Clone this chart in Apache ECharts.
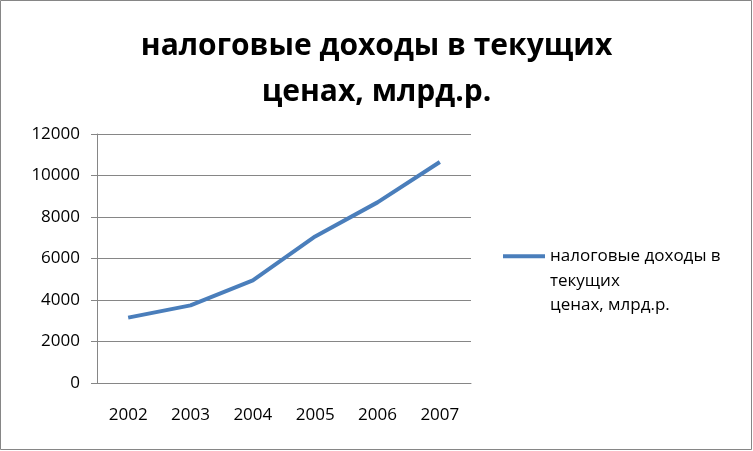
<!DOCTYPE html>
<html><head><meta charset="utf-8">
<script src="https://cdn.jsdelivr.net/npm/echarts@6/dist/echarts.min.js"></script>
<style>html,body{margin:0;padding:0;background:#fff}#c{width:753px;height:451px}</style>
</head><body><div id="c"></div>
<script>
const titleText = 'налоговые доходы в текущих\nценах, млрд.р.';
const seriesName = 'налоговые доходы в текущих ценах, млрд.р.';
const legendLines = ['налоговые доходы в', 'текущих', 'ценах, млрд.р.'];
const categories = ['2002', '2003', '2004', '2005', '2006', '2007'];
const values = [3150, 3740, 4945, 7065, 8705, 10650];
const yMin = 0, yMax = 12000, yStep = 2000;

const chart = echarts.init(document.getElementById('c'));
const font = 'Open Sans';
chart.setOption({
  animation: false,
  backgroundColor: '#fff',
  title: {
    text: titleText, left: 'center', top: 18,
    textStyle: {fontFamily: font, fontWeight: 'bold', fontSize: 30, lineHeight: 46, color: '#000'}
  },
  grid: {left: 97, right: 282, top: 134, bottom: 68},
  xAxis: {
    type: 'category', data: categories, boundaryGap: true,
    axisLine: {lineStyle: {color: '#868686'}},
    axisTick: {length: 6, lineStyle: {color: '#868686'}},
    axisLabel: {fontFamily: font, fontSize: 17, color: '#000', margin: 24}
  },
  yAxis: {
    type: 'value', min: yMin, max: yMax, interval: yStep,
    axisLine: {show: true, lineStyle: {color: '#868686'}},
    axisTick: {show: true, length: 6, lineStyle: {color: '#868686'}},
    splitLine: {lineStyle: {color: '#868686'}},
    axisLabel: {fontFamily: font, fontSize: 17, color: '#000', margin: 17, formatter: v => String(v)}
  },
  legend: {
    left: 498, top: 190, orient: 'vertical',
    icon: 'rect', itemWidth: 42, itemHeight: 4,
    formatter: () => '\n\n' + legendLines.join('\n'),
    textStyle: {fontFamily: font, fontSize: 17, color: '#000', lineHeight: 24.5}
  },
  graphic: [{type: 'rect', shape: {x: 0.5, y: 0.5, width: 751, height: 449}, style: {fill: 'none', stroke: '#868686', lineWidth: 1}}],
  series: [{
    name: seriesName, type: 'line', data: values, symbol: 'none',
    lineStyle: {color: '#4a7ebb', width: 4}, itemStyle: {color: '#4a7ebb'}
  }]
});
</script></body></html>
